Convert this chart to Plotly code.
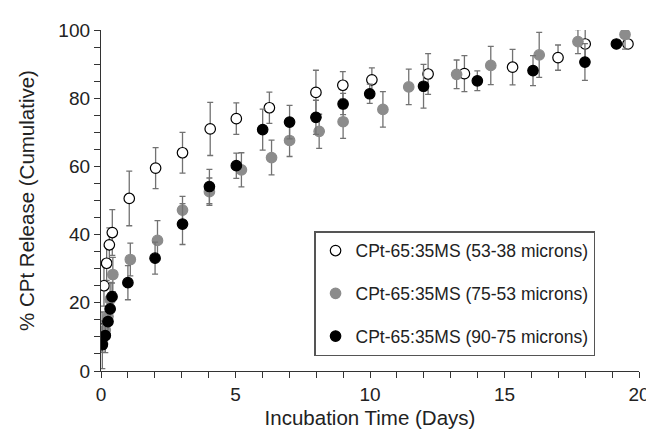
import plotly.graph_objects as go

# Series: CPt-65:35MS (53-38 microns) - open circles
days_a = [0.04, 0.11, 0.21, 0.31, 0.42, 1.05, 2.03, 3.03, 4.06, 5.03, 6.26, 7.99, 8.99, 10.07, 12.16, 13.51, 15.3, 16.99, 18.0, 19.59]
rel_a = [12.3, 25.0, 31.6, 37.0, 40.6, 50.6, 59.5, 64.0, 71.0, 74.0, 77.2, 81.7, 83.8, 85.4, 87.1, 87.2, 89.1, 91.9, 95.9, 95.9]
err_a = [5.0, 6.0, 5.0, 5.0, 6.7, 8.0, 6.0, 6.0, 7.8, 4.6, 4.6, 6.5, 4.0, 3.5, 6.0, 5.3, 5.2, 3.7, 4.3, 1.0]

# Series: CPt-65:35MS (75-53 microns) - gray circles
days_b = [0.05, 0.16, 0.26, 0.34, 0.44, 1.09, 2.1, 3.03, 4.03, 5.22, 6.34, 7.01, 8.11, 9.0, 10.48, 11.44, 13.22, 14.49, 16.29, 17.73, 19.48]
rel_b = [8.5, 12.0, 16.0, 21.0, 28.3, 32.7, 38.3, 47.2, 52.6, 59.0, 62.6, 67.6, 70.3, 73.1, 76.7, 83.3, 87.0, 89.6, 92.7, 96.6, 98.7]
err_b = [3.0, 4.0, 5.0, 5.0, 5.0, 4.8, 5.8, 4.0, 4.0, 5.0, 5.1, 4.7, 5.0, 4.9, 5.2, 5.2, 4.2, 5.6, 6.6, 3.5, 4.3]

# Series: CPt-65:35MS (90-75 microns) - black circles
days_c = [0.05, 0.16, 0.26, 0.34, 0.41, 1.0, 2.01, 3.03, 4.03, 5.03, 6.01, 7.01, 7.99, 9.0, 9.99, 11.99, 13.99, 16.06, 17.99, 19.16]
rel_c = [7.7, 10.4, 14.5, 18.2, 21.8, 25.9, 33.1, 43.1, 54.1, 60.2, 70.8, 73.0, 74.4, 78.3, 81.3, 83.5, 85.1, 88.1, 90.6, 95.9]
err_c = [7.0, 5.0, 4.0, 4.0, 4.0, 5.0, 4.7, 6.0, 5.0, 3.7, 6.0, 4.9, 5.0, 3.1, 2.8, 6.4, 2.9, 4.4, 5.4, 1.0]

x_ticks = [0, 5, 10, 15, 20]
y_ticks = [0, 20, 40, 60, 80, 100]

names = ["CPt-65:35MS (53-38 microns)", "CPt-65:35MS (75-53 microns)", "CPt-65:35MS (90-75 microns)"]

FONT = "Liberation Sans, Arial, sans-serif"
ERR_COLOR = "#727272"

fig = go.Figure()

def add(x, y, e, name, fill, line, group):
    fig.add_trace(go.Scatter(
        x=x, y=y, mode="markers", name=name, legendgroup=group,
        marker=dict(size=10.5, color=fill, line=dict(color=line, width=1.2)),
        error_y=dict(type="data", array=e, visible=True, color=ERR_COLOR, thickness=1.3, width=3),
    ))

add(days_a, rel_a, err_a, names[0], "white", "black", "a")
add(days_b, rel_b, err_b, names[1], "#8c8c8c", "#8c8c8c", "b")
add(days_c, rel_c, err_c, names[2], "black", "black", "c")

fig.update_layout(
    width=654, height=435,
    margin=dict(l=93, r=21, t=20, b=72),
    paper_bgcolor="white", plot_bgcolor="white",
    font=dict(family=FONT, size=19, color="#222"),
    showlegend=True,
    legend=dict(
        x=0.396, y=0.41, xanchor="left", yanchor="top",
        bordercolor="#555", borderwidth=1.5, bgcolor="white",
        font=dict(size=17.5, family=FONT, color="#222"),
        tracegroupgap=17, entrywidth=266, entrywidthmode="pixels",
    ),
    xaxis=dict(
        range=[0, 20], tickvals=x_ticks, ticks="outside", ticklen=6,
        tickcolor="#333", showline=True, linecolor="#333", linewidth=1.3,
        showgrid=False, zeroline=False, tickfont=dict(size=19),
        minor=dict(dtick=1, ticks="outside", ticklen=6, tickcolor="#333", showgrid=False),
        title=dict(text="Incubation Time (Days)", font=dict(size=20.5), standoff=6),
    ),
    yaxis=dict(
        range=[0, 100], tickvals=y_ticks, ticks="outside", ticklen=6,
        tickcolor="#333", showline=True, linecolor="#333", linewidth=1.3,
        showgrid=False, zeroline=False, tickfont=dict(size=19),
        minor=dict(dtick=5, ticks="outside", ticklen=6, tickcolor="#333", showgrid=False),
        title=dict(text="% CPt Release (Cumulative)", font=dict(size=20.5), standoff=18),
    ),
)

fig.write_html("out.html")
